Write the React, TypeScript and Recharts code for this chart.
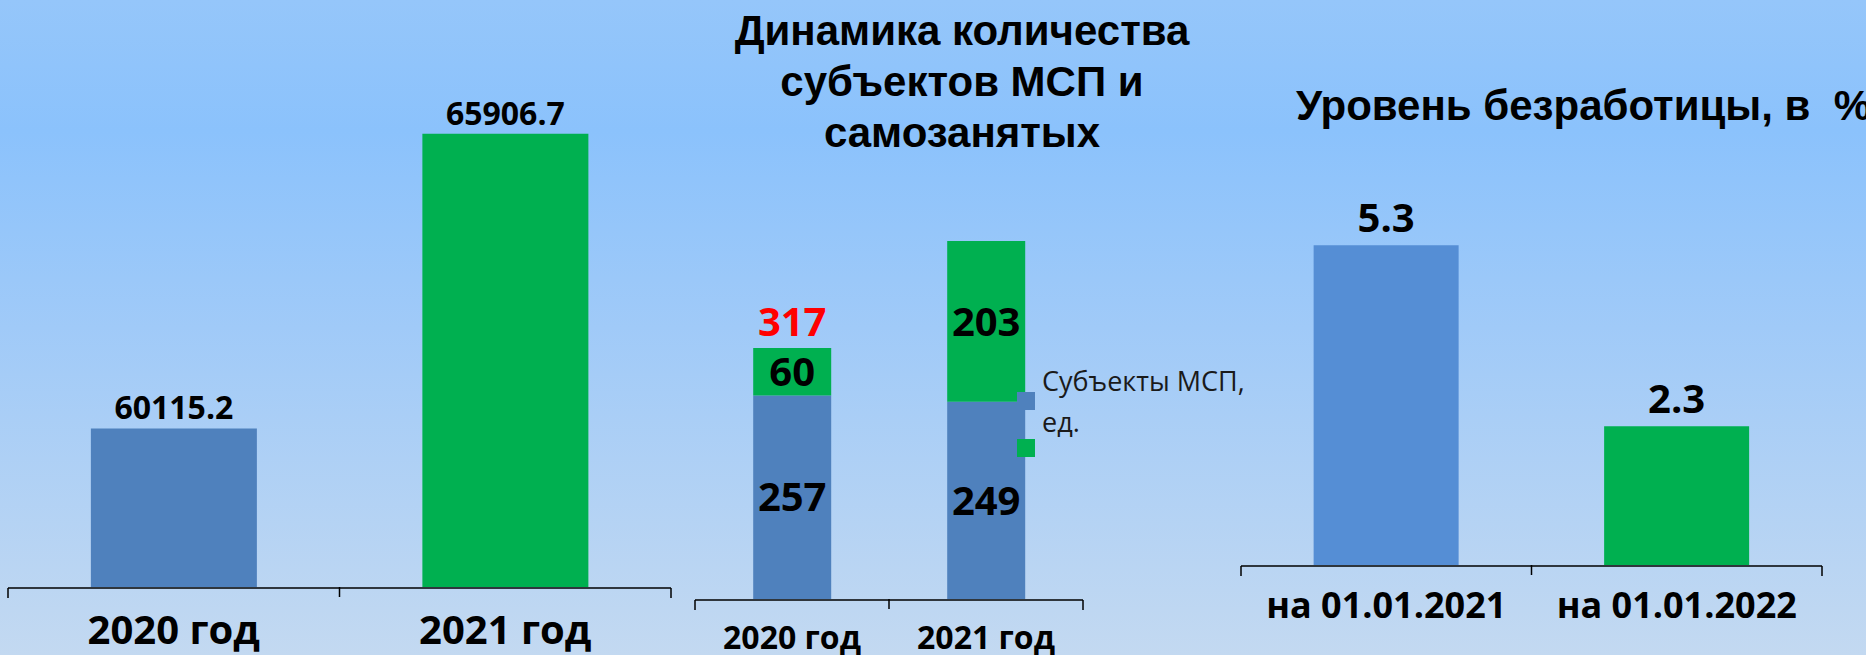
import React from "react";
import { Bar, BarChart, Cell, LabelList, XAxis, YAxis } from "recharts";

// chart 1 — left block, no title
const yearCategories = ["2020 год", "2021 год"];
const leftValues = [60115.2, 65906.7];
const leftColors = ["#4F81BD", "#00B050"];

// chart 2 — stacked MSP / self-employed
const mspValues = [257, 249];
const selfEmployedValues = [60, 203];
const totalLabels = ["317", ""];
const legendItems = [
  { name: "Субъекты МСП, ед.", color: "#4F81BD" },
  { name: "", color: "#00B050" },
];

// chart 3 — unemployment
const unemploymentDates = ["на 01.01.2021", "на 01.01.2022"];
const unemploymentValues = [5.3, 2.3];
const unemploymentColors = ["#558ED5", "#00B050"];

const leftData = yearCategories.map((name, i) => ({ name, value: leftValues[i] }));
const mspData = yearCategories.map((name, i) => ({
  name,
  msp: mspValues[i],
  self: selfEmployedValues[i],
  total: totalLabels[i],
}));
const unemploymentData = unemploymentDates.map((name, i) => ({
  name,
  value: unemploymentValues[i],
}));

const FONT = "'Open Sans', sans-serif";
const TITLE_FONT = "'Liberation Sans', Arial, sans-serif";
const axisStroke = { stroke: "#000", strokeWidth: 1.5 };
const blank = () => "";
const TICK = 10;

const edgeTicks = (n: number) => Array.from({ length: n + 1 }, (_, i) => i);

// category label + the tick mark between this band and the next one
const makeTick = (fontSize: number, margin: number) => (props: any) => {
  const { x, y, payload, index, width, visibleTicksCount } = props;
  const half = Number(width) / Number(visibleTicksCount) / 2;
  const axisY = y - margin - TICK;
  const showSep = index < visibleTicksCount - 1 && isFinite(half);
  return (
    <g>
      {showSep && (
        <line
          x1={x + half}
          x2={x + half}
          y1={axisY}
          y2={axisY + TICK}
          stroke="#000"
          strokeWidth={1.5}
        />
      )}
      <text
        x={x}
        y={y}
        dy="0.71em"
        textAnchor="middle"
        fill="#000"
        fontSize={fontSize}
        fontWeight={700}
        fontFamily={FONT}
      >
        {payload.value}
      </text>
    </g>
  );
};

export default function App() {
  return (
    <div
      style={{
        position: "absolute",
        left: 0,
        top: 0,
        width: 1866,
        height: 655,
        overflow: "hidden",
        background:
          "linear-gradient(180deg, #95C6FA 0%, #8BC2FC 20%, #A0CAF8 50%, #C3D9F1 100%)",
      }}
    >
      {/* left chart */}
      <div style={{ position: "absolute", left: 0, top: 0 }}>
        <BarChart
          width={700}
          height={655}
          data={leftData}
          margin={{ top: 78, right: 29, bottom: 66, left: 8 }}
          barCategoryGap="25%"
        >
          <YAxis hide domain={[57000, 67000]} allowDataOverflow />
          <XAxis
            xAxisId="edge"
            type="number"
            domain={[0, yearCategories.length]}
            allowDataOverflow
            ticks={edgeTicks(yearCategories.length)}
            interval={0}
            tickFormatter={blank}
            tickSize={TICK}
            axisLine={axisStroke}
            tickLine={axisStroke}
            height={1}
          />
          <XAxis
            xAxisId="cat"
            dataKey="name"
            axisLine={false}
            tickLine={false}
            tickSize={TICK}
            tickMargin={19}
            interval={0}
            height={1}
            tick={makeTick(40, 19)}
          />
          <Bar dataKey="value" xAxisId="cat" isAnimationActive={false}>
            {leftData.map((_, i) => (
              <Cell key={i} fill={leftColors[i]} />
            ))}
            <LabelList
              dataKey="value"
              position="top"
              offset={9}
              fill="#000"
              fontSize={32}
              fontWeight={700}
              fontFamily={FONT}
            />
          </Bar>
        </BarChart>
      </div>

      {/* middle chart */}
      <div
        style={{
          position: "absolute",
          left: 662,
          top: 5,
          width: 600,
          textAlign: "center",
          fontFamily: TITLE_FONT,
          fontWeight: 700,
          fontSize: 42,
          lineHeight: "51px",
          color: "#000",
        }}
      >
        Динамика количества
        <br />
        субъектов МСП и
        <br />
        самозанятых
      </div>
      <div style={{ position: "absolute", left: 680, top: 0 }}>
        <BarChart
          width={600}
          height={655}
          data={mspData}
          margin={{ top: 203, right: 197, bottom: 54, left: 15 }}
          barCategoryGap="30%"
        >
          <YAxis hide domain={[0, 500]} />
          <XAxis
            xAxisId="edge"
            type="number"
            domain={[0, yearCategories.length]}
            allowDataOverflow
            ticks={edgeTicks(yearCategories.length)}
            interval={0}
            tickFormatter={blank}
            tickSize={TICK}
            axisLine={axisStroke}
            tickLine={axisStroke}
            height={1}
          />
          <XAxis
            xAxisId="cat"
            dataKey="name"
            axisLine={false}
            tickLine={false}
            tickSize={TICK}
            tickMargin={17}
            interval={0}
            height={1}
            tick={makeTick(32, 17)}
          />
          <Bar dataKey="msp" stackId="a" xAxisId="cat" fill="#4F81BD" isAnimationActive={false}>
            <LabelList
              dataKey="msp"
              position="center"
              fill="#000"
              fontSize={40}
              fontWeight={700}
              fontFamily={FONT}
            />
          </Bar>
          <Bar dataKey="self" stackId="a" xAxisId="cat" fill="#00B050" isAnimationActive={false}>
            <LabelList
              dataKey="self"
              position="center"
              fill="#000"
              fontSize={40}
              fontWeight={700}
              fontFamily={FONT}
            />
            <LabelList
              dataKey="total"
              position="top"
              offset={12}
              fill="#FF0000"
              fontSize={40}
              fontWeight={700}
              fontFamily={FONT}
            />
          </Bar>
        </BarChart>
      </div>
      <div
        style={{
          position: "absolute",
          left: 1017,
          top: 360,
          fontFamily: FONT,
          fontSize: 27,
          lineHeight: "41px",
          color: "#1a1a1a",
        }}
      >
        {legendItems.map((item, i) => (
          <div
            key={i}
            style={{
              display: "flex",
              alignItems: "center",
              marginTop: i === 0 ? 0 : -3,
            }}
          >
            <div style={{ width: 18, height: 18, background: item.color, flex: "none" }} />
            {item.name && <div style={{ marginLeft: 7, width: 225 }}>{item.name}</div>}
          </div>
        ))}
      </div>

      {/* right chart */}
      <div
        style={{
          position: "absolute",
          left: 1296,
          top: 80,
          whiteSpace: "pre",
          fontFamily: TITLE_FONT,
          fontWeight: 700,
          fontSize: 42,
          lineHeight: "51px",
          color: "#000",
        }}
      >
        Уровень безработицы, в  %
      </div>
      <div style={{ position: "absolute", left: 1220, top: 0 }}>
        <BarChart
          width={646}
          height={655}
          data={unemploymentData}
          margin={{ top: 203, right: 44, bottom: 88, left: 21 }}
          barCategoryGap="25%"
        >
          <YAxis hide domain={[0, 6]} />
          <XAxis
            xAxisId="edge"
            type="number"
            domain={[0, unemploymentDates.length]}
            allowDataOverflow
            ticks={edgeTicks(unemploymentDates.length)}
            interval={0}
            tickFormatter={blank}
            tickSize={TICK}
            axisLine={axisStroke}
            tickLine={axisStroke}
            height={1}
          />
          <XAxis
            xAxisId="cat"
            dataKey="name"
            axisLine={false}
            tickLine={false}
            tickSize={TICK}
            tickMargin={17}
            interval={0}
            height={1}
            tick={makeTick(36, 17)}
          />
          <Bar dataKey="value" xAxisId="cat" isAnimationActive={false}>
            {unemploymentData.map((_, i) => (
              <Cell key={i} fill={unemploymentColors[i]} />
            ))}
            <LabelList
              dataKey="value"
              position="top"
              offset={13}
              fill="#000"
              fontSize={40}
              fontWeight={700}
              fontFamily={FONT}
            />
          </Bar>
        </BarChart>
      </div>
    </div>
  );
}
